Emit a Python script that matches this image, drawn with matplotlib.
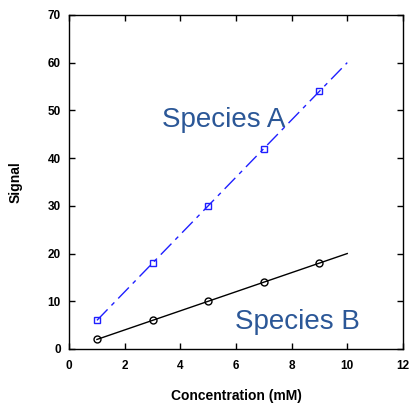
import matplotlib
matplotlib.use("Agg")
import matplotlib.pyplot as plt

# data
conc = [1, 3, 5, 7, 9]
signal_a = [6, 18, 30, 42, 54]
signal_b = [2, 6, 10, 14, 18]
# fitted lines drawn from 1 to 10 mM
fit_x = [1, 10]
fit_a = [6, 60]
fit_b = [2, 20]

plt.rcParams['font.family'] = ['Liberation Sans', 'DejaVu Sans']

fig = plt.figure(figsize=(4.09, 4.03), dpi=100)
ax = fig.add_axes([0.169, 0.134, 0.816, 0.829])

# Species A : blue squares + dash-dot line
ax.plot(fit_x, fit_a, color='#1f1fff', lw=1, dashes=(11, 4, 3, 4))
ax.plot(conc, signal_a, ls='none', marker='s', ms=5, mfc='none', mec='#1f1fff', mew=1)
# Species B : black circles + solid line
ax.plot(fit_x, fit_b, color='black', lw=1)
ax.plot(conc, signal_b, ls='none', marker='o', ms=5, mfc='none', mec='black', mew=1)

ax.text(3.35, 46.5, "Species A", fontsize=20, color='#2b5797', ha='left', va='baseline')
ax.text(5.97, 4.2, "Species B", fontsize=20, color='#2b5797', ha='left', va='baseline')

ax.set_xlim(0, 12)
ax.set_ylim(0, 70)
ax.set_xticks(range(0, 13, 2))
ax.set_yticks(range(0, 71, 10))
ax.tick_params(direction='in', length=4, width=1, top=True, right=True, labelsize=8.5)
ax.tick_params(axis='x', pad=8)
ax.tick_params(axis='y', pad=6)
for lab in ax.get_xticklabels() + ax.get_yticklabels():
    lab.set_fontweight('bold')
for s in ax.spines.values():
    s.set_linewidth(1)

ax.set_xlabel("Concentration (mM)", fontsize=10, fontweight='bold', labelpad=12)
ax.set_ylabel("Signal", fontsize=10, fontweight='bold', labelpad=18)

fig.savefig("out.png", dpi=100)
